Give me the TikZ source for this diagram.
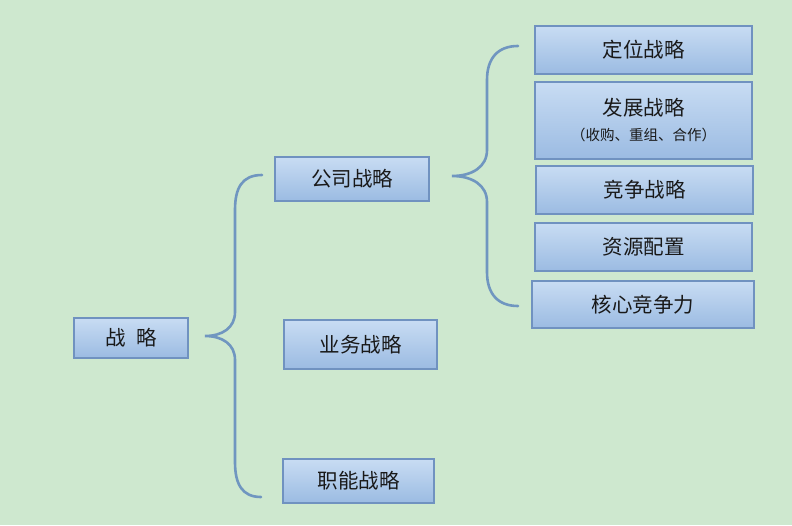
\documentclass[tikz,border=0pt]{standalone}
\usepackage{fontspec}
\setmainfont{Noto Sans CJK SC}
\definecolor{bg}{RGB}{206,232,207}
\definecolor{boxtop}{RGB}{200,220,243}
\definecolor{boxbot}{RGB}{155,187,226}
\definecolor{boxline}{RGB}{112,146,192}
\definecolor{bracecol}{RGB}{112,150,192}
\definecolor{txt}{RGB}{25,25,25}
\tikzset{
  cbox/.style={draw=boxline, line width=2.4pt, top color=boxtop, bottom color=boxbot,
    inner sep=0pt, text=txt, font=\fontsize{20.5}{22}\selectfont, align=center},
  bracelin/.style={draw=bracecol, line width=2.6pt, line cap=round}
}
\begin{document}
\begin{tikzpicture}[x=1pt,y=-1pt]
\fill[bg] (0,0) rectangle (792,525);
\useasboundingbox (0,0) rectangle (792,525);
% left column
\node[cbox, minimum width=114pt, minimum height=40pt] (zl) at (131,338) {战\hspace{0.5em}略};
\node[cbox, minimum width=154pt, minimum height=44pt] (gs) at (352,179) {公司战略};
\node[cbox, minimum width=153pt, minimum height=49pt] (yw) at (360.5,344.5) {业务战略};
\node[cbox, minimum width=151pt, minimum height=44pt] (zn) at (358.5,481) {职能战略};
% right column
\node[cbox, minimum width=217pt, minimum height=48pt] (dw) at (643.5,50) {定位战略};
\node[cbox, minimum width=217pt, minimum height=77pt] (fz) at (643.5,120.5) {发展战略\\[3pt]{\fontsize{14.5}{16}\selectfont （收购、重组、合作）}};
\node[cbox, minimum width=217pt, minimum height=48pt] (jz) at (644.5,190) {竞争战略};
\node[cbox, minimum width=217pt, minimum height=48pt] (zy) at (643.5,247) {资源配置};
\node[cbox, minimum width=222pt, minimum height=47pt] (hx) at (643,304.5) {核心竞争力};
% left brace
\coordinate (lt) at (205,336);
\coordinate (la) at (262,175);
\coordinate (lb) at (261,497);
\draw[bracelin] (la) .. controls (242,175) and (235,188) .. (235,210)
  -- (235,312) .. controls (235,328) and (222,336) .. (lt)
  .. controls (222,336) and (235,344) .. (235,360)
  -- (235,462) .. controls (235,484) and (242,497) .. (lb);
% right brace
\coordinate (rt) at (452,176);
\coordinate (ra) at (518,46);
\coordinate (rb) at (518,306);
\draw[bracelin] (ra) .. controls (498,46) and (487,58) .. (487,80)
  -- (487,150) .. controls (487,167) and (472,176) .. (rt)
  .. controls (472,176) and (487,185) .. (487,202)
  -- (487,272) .. controls (487,294) and (498,306) .. (rb);
\end{tikzpicture}
\end{document}
